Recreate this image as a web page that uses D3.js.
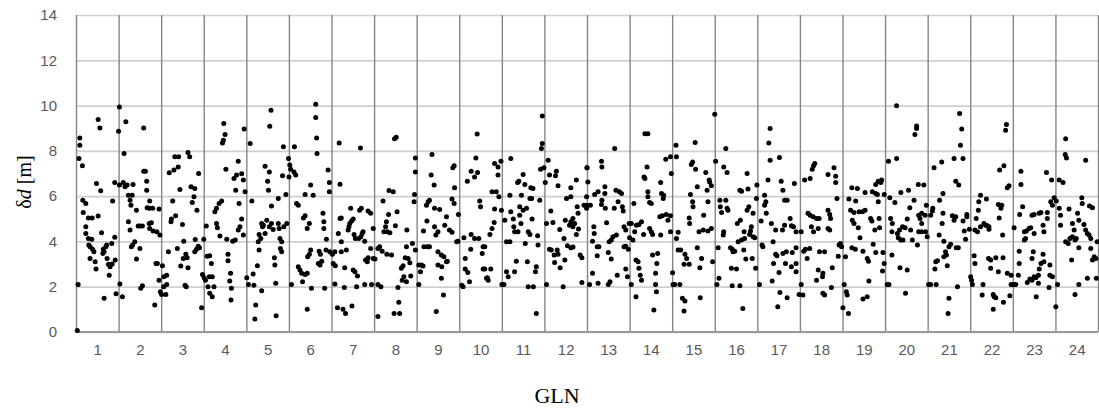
<!DOCTYPE html>
<html>
<head>
<meta charset="utf-8">
<script src="https://cdn.jsdelivr.net/npm/d3@7"></script>
<style>
  html, body { margin: 0; padding: 0; background: #fff; }
  svg { display: block; }
</style>
</head>
<body>
<svg id="chart" width="1099" height="410"></svg>
<script>
// GLONASS slot numbers and y-axis ticks
const gln = d3.range(1, 25);
const yTicks = [0, 2, 4, 6, 8, 10, 12, 14];

// Position error δd [m] per satellite: [position within the slot (0..1), value]
const gln01 = [[0.03,0.07],[0.09,8.57],[0.09,8.25],[0.07,7.66],[0.15,7.34],[0.52,9.38],[0.56,9.01],[0.48,6.56],[0.58,6.24],[0.16,5.82],[0.23,5.68],[0.86,5.79],[0.17,5.28],[0.29,5.04],[0.38,5.04],[0.52,5.12],[0.23,4.65],[0.23,4.35],[0.6,4.38],[0.91,4.18],[0.29,4.13],[0.37,4.1],[0.3,3.84],[0.33,3.76],[0.39,3.66],[0.42,3.54],[0.64,3.66],[0.7,3.76],[0.72,3.84],[0.84,3.91],[0.66,3.54],[0.63,3.47],[0.33,3.25],[0.45,3.1],[0.47,2.78],[0.73,3.25],[0.76,2.99],[0.8,2.88],[0.85,3.0],[0.78,2.51],[0.92,3.18],[0.05,2.1],[0.66,1.49],[0.94,1.69],[0.91,6.6]];
const gln02 = [[0.02,9.94],[0,8.87],[0.17,9.28],[0.59,9.01],[0.13,7.88],[0.02,6.49],[0.11,6.6],[0.15,6.41],[0.2,6.49],[0.34,6.51],[0.23,6.04],[0.32,6.04],[0.27,5.82],[0.29,5.6],[0.59,7.1],[0.63,7.1],[0.66,6.66],[0.66,6.26],[0.73,5.78],[0.72,5.46],[0.8,5.46],[0.95,5.43],[0.67,5.49],[0.42,5.38],[0.23,4.87],[0.27,4.5],[0.46,4.68],[0.5,4.68],[0.56,4.68],[0.72,4.79],[0.77,4.82],[0.73,4.57],[0.81,4.46],[0.9,4.43],[0.97,4.28],[0.38,3.99],[0.33,3.84],[0.3,3.76],[0.5,3.69],[0.42,3.22],[0.03,2.12],[0.09,1.56],[0.56,2.04],[0.52,1.93],[0.85,1.19],[0.88,3.03],[0.91,3.03],[0.95,2.29],[0.98,1.78]];
const gln03 = [[0.03,2.93],[0.06,2.44],[0.13,2.51],[0.01,1.66],[0.11,1.66],[0.13,2.1],[0.06,2.0],[0.17,3.54],[0.38,3.69],[0.53,4.01],[0.52,3.25],[0.58,3.43],[0.61,3.28],[0.46,2.91],[0.63,2.84],[0.24,4.99],[0.23,4.87],[0.34,5.13],[0.27,5.78],[0.5,4.75],[0.19,7.03],[0.3,7.15],[0.4,7.29],[0.32,7.74],[0.41,7.74],[0.63,7.93],[0.67,7.74],[0.44,6.29],[0.7,6.41],[0.79,6.34],[0.77,5.97],[0.73,5.72],[0.84,5.38],[0.88,7.0],[0.56,2.07],[0.59,2.0],[0.8,4.09],[0.87,3.79],[0.9,3.72],[0.83,3.66],[0.79,3.54],[0.97,2.54],[0.95,1.07]];
const gln04 = [[0.0,4.1],[0.06,4.68],[0.01,2.4],[0.04,2.29],[0.13,2.44],[0.2,2.44],[0.24,2.0],[0.14,1.71],[0.2,1.56],[0.1,2.0],[0.14,3.37],[0.18,3.03],[0.08,3.35],[0.26,5.31],[0.3,5.46],[0.36,5.68],[0.42,5.78],[0.46,8.47],[0.5,8.72],[0.47,9.21],[0.44,8.35],[0.52,7.19],[0.71,6.78],[0.77,6.93],[0.81,7.54],[0.89,6.99],[0.93,6.71],[0.95,8.96],[0.75,6.26],[0.83,5.68],[0.97,6.19],[0.3,4.79],[0.32,4.6],[0.38,4.24],[0.54,4.1],[0.68,4.01],[0.74,4.06],[0.81,4.5],[0.85,4.65],[0.89,4.99],[0.93,4.28],[0.57,3.43],[0.57,3.15],[0.63,2.59],[0.61,2.25],[0.65,1.93],[0.64,1.41]];
const gln05 = [[0.01,2.4],[0.05,2.1],[0.16,2.56],[0.18,2.07],[0.36,1.82],[0.22,1.19],[0.2,0.57],[0.7,0.72],[0.26,2.93],[0.3,3.62],[0.34,4.13],[0.3,4.31],[0.28,3.99],[0.38,4.65],[0.4,4.72],[0.36,4.79],[0.48,4.94],[0.44,4.35],[0.59,4.79],[0.54,4.65],[0.63,4.53],[0.75,4.79],[0.77,4.57],[0.79,4.13],[0.83,3.99],[0.95,4.79],[0.88,4.65],[0.44,7.32],[0.54,7.07],[0.87,8.18],[0.99,7.66],[0.55,9.09],[0.58,9.79],[0.13,5.78],[0.59,5.56],[0.75,5.9],[0.93,6.07],[0.5,6.66],[0.52,6.26],[0.85,6.9],[1.0,6.85],[0.66,3.28],[0.67,2.96],[0.8,3.69],[0.83,3.54],[0.69,2.15],[0.09,8.32]];
const gln06 = [[0.06,2.1],[0.13,8.18],[0.65,8.57],[0.66,7.88],[0.63,9.47],[0.63,10.06],[0.02,7.37],[0.04,7.19],[0.12,7.07],[0.16,6.93],[0.18,5.68],[0.22,5.6],[0.34,5.04],[0.38,5.13],[0.43,4.57],[0.48,4.79],[0.51,6.49],[0.38,6.07],[0.57,6.04],[0.51,3.62],[0.48,3.43],[0.44,3.32],[0.22,2.88],[0.26,2.74],[0.3,2.59],[0.38,2.54],[0.43,2.59],[0.32,2.22],[0.53,1.93],[0.43,1.01],[0.8,5.24],[0.82,4.87],[0.82,4.57],[0.88,4.1],[0.92,7.15],[0.95,6.6],[0.95,6.19],[0.71,3.57],[0.74,3.43],[0.77,3.13],[0.69,3.03],[0.73,2.96],[0.84,1.93],[0.87,3.62],[0.96,3.54]];
const gln07 = [[0.18,8.35],[0.68,8.13],[0.2,6.53],[0.2,5.01],[0.23,5.04],[0.16,4.35],[0.23,3.99],[0.08,3.54],[0.23,3.54],[0.35,3.62],[0.02,3.43],[0.04,3.03],[0.09,2.93],[0.31,2.84],[0.51,2.74],[0.55,2.66],[0.61,2.47],[0.08,2.12],[0.3,1.96],[0.59,2.0],[0.14,1.07],[0.27,1.01],[0.33,0.82],[0.48,1.15],[0.39,4.5],[0.41,4.65],[0.43,4.79],[0.47,4.9],[0.51,4.99],[0.45,5.46],[0.66,5.38],[0.7,5.46],[0.53,4.31],[0.56,4.13],[0.69,4.21],[0.72,4.35],[0.74,4.43],[0.64,4.13],[0.78,4.01],[0.86,5.34],[0.92,5.24],[0.98,4.57],[0.8,3.18],[0.86,3.28],[0.84,3.1],[0.92,3.69],[0.98,3.25],[0.78,2.1],[0.94,2.1]];
const gln08 = [[0.09,2.1],[0.16,2.0],[0.09,0.68],[0.47,0.82],[0.6,0.82],[0.58,1.31],[0.56,1.96],[0.48,8.54],[0.52,8.6],[0.35,6.25],[0.45,6.19],[0.21,5.78],[0.34,5.19],[0.54,5.31],[0.29,4.87],[0.27,4.65],[0.23,4.43],[0.31,4.43],[0.37,4.38],[0.5,4.69],[0.77,4.5],[0.13,3.76],[0.09,3.69],[0.19,3.57],[0.3,3.43],[0.41,3.4],[0.02,3.22],[0.76,3.76],[0.9,3.91],[0.73,3.28],[0.8,3.25],[0.84,3.06],[0.68,2.93],[0.64,2.81],[0.7,2.44],[0.86,2.47],[0.76,2.22],[0.66,2.29],[0.97,3.62],[0.94,5.75],[0.95,6.07],[0.97,7.07],[0.97,7.69]];
const gln09 = [[0.05,2.96],[0.11,2.96],[0.15,2.91],[0.09,2.66],[0.05,2.1],[0.46,0.9],[0.63,1.63],[0.58,2.37],[0.17,3.76],[0.25,3.76],[0.3,3.76],[0.16,4.46],[0.24,4.9],[0.42,4.65],[0.45,4.28],[0.5,4.43],[0.54,5.41],[0.42,5.46],[0.23,5.6],[0.27,5.75],[0.3,5.82],[0.34,6.93],[0.41,6.49],[0.36,7.84],[0.7,5.09],[0.66,4.72],[0.77,4.5],[0.83,4.4],[0.97,4.01],[0.88,5.68],[0.89,6.37],[0.83,5.87],[0.5,3.54],[0.58,3.4],[0.64,3.32],[0.7,3.1],[0.5,2.96],[0.59,2.88],[0.72,3.13],[0.85,7.25],[0.88,7.34],[0.94,3.99],[0.98,5.19]];
const gln10 = [[0.06,2.07],[0.09,2.0],[0.14,2.78],[0.14,3.25],[0.2,2.63],[0.24,2.22],[0.11,4.16],[0.27,3.66],[0.28,4.31],[0.36,4.13],[0.46,4.13],[0.56,3.76],[0.6,3.76],[0.54,3.47],[0.56,2.78],[0.6,2.78],[0.64,2.37],[0.68,2.29],[0.74,2.78],[0.66,2.4],[0.19,6.66],[0.28,7.1],[0.43,7.04],[0.36,6.85],[0.39,7.69],[0.42,8.74],[0.48,5.78],[0.5,5.53],[0.72,4.31],[0.77,4.57],[0.82,4.84],[0.83,5.43],[0.77,6.19],[0.87,6.19],[0.93,5.97],[0.83,7.44],[0.91,7.29],[0.98,7.54],[0.91,6.93],[0.99,5.38],[1.0,2.1]];
const gln11 = [[0.05,2.1],[0.11,2.66],[0.15,2.44],[0.3,2.66],[0.34,3.13],[0.6,3.1],[0.62,2.0],[0.74,2.0],[0.81,0.82],[0.79,2.66],[0.81,2.88],[0.11,3.99],[0.19,3.99],[0.07,4.94],[0.21,5.31],[0.19,6.04],[0.21,7.66],[0.27,4.99],[0.28,4.65],[0.3,4.43],[0.38,4.43],[0.45,4.79],[0.42,5.16],[0.5,5.38],[0.58,5.46],[0.42,5.53],[0.37,6.6],[0.4,6.66],[0.5,6.96],[0.54,6.51],[0.68,6.37],[0.66,5.9],[0.7,5.9],[0.73,6.34],[0.46,6.04],[0.62,4.43],[0.66,4.31],[0.55,3.91],[0.71,4.99],[0.84,4.25],[0.85,3.84],[0.89,5.82],[0.93,8.1],[0.95,8.32],[0.95,9.54],[0.91,7.19],[0.99,7.25]];
const gln12 = [[0.02,6.6],[0.09,7.59],[0.12,6.93],[0.26,6.9],[0.28,7.1],[0.32,6.46],[0.52,5.9],[0.62,5.97],[0.62,6.37],[0.75,6.71],[1.0,7.25],[0.05,4.79],[0.15,5.34],[0.2,4.84],[0.36,4.53],[0.49,4.94],[0.59,4.72],[0.62,4.87],[0.67,5.01],[0.71,4.79],[0.67,4.65],[0.8,4.55],[0.75,4.31],[0.79,5.24],[0.77,5.53],[0.93,5.6],[0.99,5.97],[0.99,5.46],[0.12,3.66],[0.16,3.62],[0.23,3.4],[0.3,3.62],[0.32,3.43],[0.24,3.07],[0.37,2.84],[0.48,3.18],[0.46,4.13],[0.54,3.81],[0.62,3.72],[0.67,3.75],[0.84,3.4],[0.88,3.28],[0.05,2.1],[0.44,2.0],[0.88,2.19]];
const gln13 = [[0.0,7.25],[0.02,6.63],[0.0,5.6],[0.08,5.6],[0.13,2.59],[0.06,2.1],[0.26,2.15],[0.34,7.54],[0.35,7.29],[0.65,8.1],[0.18,6.07],[0.26,6.19],[0.42,6.12],[0.42,6.41],[0.35,5.82],[0.34,5.63],[0.43,5.46],[0.68,6.26],[0.76,6.19],[0.81,6.12],[0.73,5.75],[0.83,5.53],[0.85,5.34],[0.64,5.46],[0.46,4.82],[0.16,4.65],[0.17,4.35],[0.13,4.01],[0.24,3.76],[0.28,3.76],[0.24,3.37],[0.52,3.99],[0.57,4.06],[0.61,4.21],[0.69,4.28],[0.5,3.51],[0.57,3.22],[0.5,2.1],[0.54,2.22],[0.71,2.51],[0.87,4.65],[0.91,4.5],[0.99,4.79],[0.91,3.79],[0.97,3.66],[0.87,3.76],[0.91,2.78],[0.95,2.44]];
const gln14 = [[0.04,2.1],[0.15,1.56],[0.57,0.97],[0.63,1.78],[0.61,2.1],[0.61,2.59],[0.64,3.03],[0.54,3.4],[0.66,3.47],[0.15,3.18],[0.2,3.1],[0.22,2.81],[0.25,2.51],[0.28,2.29],[0.08,4.06],[0.0,4.16],[0.04,4.79],[0.16,4.72],[0.22,4.75],[0.28,4.87],[0.12,4.43],[0.33,4.31],[0.47,4.57],[0.51,4.43],[0.54,4.31],[0.1,5.68],[0.36,8.76],[0.43,8.76],[0.41,7.29],[0.34,6.85],[0.36,6.78],[0.43,6.19],[0.43,5.97],[0.51,5.68],[0.47,5.72],[0.73,6.6],[0.75,6.12],[0.79,5.9],[0.8,6.04],[0.71,5.09],[0.77,5.13],[0.86,5.19],[0.96,5.13],[0.9,4.94],[0.73,4.28],[0.96,4.43],[0.85,7.63],[0.96,7.74],[0.98,7.0]];
const gln15 = [[0.09,8.25],[0.1,7.74],[0.01,2.62],[0.02,2.1],[0.06,2.1],[0.18,2.1],[0.24,1.49],[0.3,1.37],[0.28,0.93],[0.66,1.51],[0.1,4.13],[0.14,4.4],[0.2,3.62],[0.14,3.62],[0.3,3.43],[0.34,3.25],[0.28,2.99],[0.4,2.99],[0.43,6.07],[0.48,5.75],[0.49,5.53],[0.4,5.04],[0.41,4.79],[0.54,8.37],[0.48,7.51],[0.45,7.4],[0.55,7.19],[0.59,6.41],[0.63,4.43],[0.69,3.25],[0.65,2.84],[0.59,3.72],[0.74,5.16],[0.73,4.5],[0.79,7.04],[0.84,5.75],[0.82,6.26],[0.87,6.71],[0.88,6.63],[0.92,6.46],[0.92,4.57],[0.95,3.1],[0.84,4.46]];
const gln16 = [[0.0,9.62],[0.02,7.54],[0.05,2.1],[0.1,2.37],[0.08,3.72],[0.26,8.1],[0.21,7.29],[0.29,7.04],[0.12,5.82],[0.26,5.82],[0.13,5.53],[0.29,5.46],[0.16,5.28],[0.31,5.38],[0.21,4.43],[0.2,4.28],[0.37,3.72],[0.41,3.66],[0.43,3.54],[0.47,3.57],[0.39,2.81],[0.51,2.78],[0.41,2.04],[0.59,2.04],[0.66,1.04],[0.53,4.79],[0.6,4.94],[0.59,6.26],[0.63,6.22],[0.78,6.31],[0.76,7.0],[0.68,3.62],[0.73,3.22],[0.76,5.38],[0.8,5.53],[0.55,3.99],[0.63,4.06],[0.7,4.13],[0.69,4.43],[0.82,4.31],[0.84,4.46],[0.9,4.21],[0.94,4.16],[0.86,4.65],[0.9,5.24],[0.98,5.9],[0.99,6.49],[0.96,2.81],[0.88,3.25]];
const gln17 = [[0.05,2.1],[0.13,3.76],[0.11,3.84],[0.09,4.9],[0.17,5.6],[0.2,5.75],[0.21,5.24],[0.17,6.04],[0.3,8.99],[0.27,8.35],[0.3,7.59],[0.25,6.71],[0.33,4.79],[0.43,4.5],[0.37,3.99],[0.43,3.43],[0.46,3.37],[0.38,3.03],[0.35,2.25],[0.51,2.63],[0.53,1.75],[0.48,1.12],[0.7,1.51],[0.56,6.66],[0.6,6.26],[0.64,5.82],[0.7,5.82],[0.52,7.71],[0.59,4.5],[0.64,4.72],[0.77,5.01],[0.8,4.69],[0.85,4.65],[0.6,3.47],[0.68,3.54],[0.82,3.51],[0.66,3.03],[0.8,2.88],[0.91,3.03],[0.91,2.66],[0.87,6.56],[0.91,3.72],[0.91,4.43],[0.98,1.66]];
const gln18 = [[0.03,2.1],[0.07,1.63],[0.03,4.43],[0.09,3.57],[0.13,3.66],[0.17,3.25],[0.23,3.69],[0.11,6.71],[0.24,6.78],[0.29,7.19],[0.32,7.34],[0.35,7.44],[0.19,5.24],[0.24,5.16],[0.31,5.09],[0.39,5.01],[0.45,5.01],[0.27,4.65],[0.32,4.43],[0.43,4.57],[0.39,2.29],[0.43,2.74],[0.54,2.59],[0.53,2.44],[0.54,1.71],[0.58,1.63],[0.46,3.54],[0.58,3.54],[0.66,6.96],[0.8,7.25],[0.84,6.88],[0.84,6.6],[0.66,5.38],[0.7,5.19],[0.72,5.01],[0.66,4.57],[0.7,4.5],[0.87,5.9],[0.76,2.84],[0.74,1.96],[0.9,3.35],[0.92,3.84],[0.95,3.91],[0.98,3.76]];
const gln19 = [[0.04,2.1],[0.09,1.78],[0.11,1.63],[0.01,1.07],[0.14,0.82],[0.48,1.46],[0.58,1.56],[0.07,3.32],[0.22,3.72],[0.3,3.66],[0.41,4.16],[0.48,3.57],[0.58,3.25],[0.61,3.13],[0.72,3.87],[0.78,3.51],[0.95,3.51],[0.98,3.03],[0.94,2.69],[0.62,2.25],[0.15,5.87],[0.31,5.78],[0.19,5.38],[0.27,5.28],[0.39,5.31],[0.47,5.31],[0.53,5.38],[0.23,4.94],[0.27,4.79],[0.37,4.6],[0.66,5.01],[0.69,4.9],[0.76,4.5],[0.87,4.6],[0.86,5.01],[0.22,6.37],[0.35,6.34],[0.53,6.16],[0.7,6.19],[0.78,6.12],[0.82,6.07],[0.84,5.75],[0.78,6.51],[0.84,6.66],[0.92,6.71],[0.9,6.6],[0.98,6.07]];
const gln20 = [[0.05,2.1],[0.09,2.1],[0.27,9.99],[0.08,7.54],[0.27,7.66],[0.48,1.71],[0.52,2.74],[0.35,2.84],[0.16,3.4],[0.13,5.01],[0.17,4.79],[0.16,4.43],[0.23,5.72],[0.11,5.93],[0.29,4.35],[0.31,4.16],[0.37,4.06],[0.42,4.06],[0.34,4.5],[0.41,4.65],[0.52,4.99],[0.47,4.6],[0.6,4.5],[0.64,4.06],[0.76,3.84],[0.37,6.16],[0.55,6.26],[0.58,5.49],[0.68,5.82],[0.7,8.72],[0.74,9.1],[0.74,8.99],[0.78,6.51],[0.91,6.49],[0.79,5.16],[0.82,5.01],[0.86,5.24],[0.86,4.79],[0.79,4.43],[0.86,4.43],[0.95,4.43],[0.99,4.21],[0.97,5.6],[0.94,5.16]];
const gln21 = [[0.02,2.1],[0.07,2.1],[0.2,2.1],[0.19,3.1],[0.23,3.15],[0.17,2.78],[0.5,1.49],[0.48,0.82],[0.7,2.0],[0.46,2.93],[0.15,7.25],[0.33,7.51],[0.27,4.28],[0.34,4.79],[0.36,5.24],[0.36,6.12],[0.28,5.82],[0.07,5.16],[0.11,5.34],[0.12,5.46],[0.38,4.01],[0.42,3.54],[0.38,3.32],[0.44,3.4],[0.5,3.76],[0.54,3.87],[0.67,3.72],[0.72,3.72],[0.58,5.13],[0.62,4.94],[0.66,5.09],[0.62,7.66],[0.83,7.66],[0.75,9.65],[0.8,8.96],[0.77,8.25],[0.66,6.66],[0.73,6.49],[0.83,4.9],[0.86,4.46],[0.89,4.1],[0.92,5.19],[0.92,5.09],[0.98,4.54]];
const gln22 = [[0.05,2.1],[0.01,2.44],[0.03,2.29],[0.09,3.37],[0.11,3.03],[0.28,1.63],[0.3,2.1],[0.54,1.66],[0.56,1.56],[0.54,1.01],[0.78,1.31],[0.6,1.51],[0.93,1.6],[0.96,2.1],[0.99,2.1],[0.14,5.01],[0.19,5.38],[0.24,6.04],[0.2,5.75],[0.38,5.87],[0.11,4.5],[0.17,4.43],[0.24,4.65],[0.32,4.79],[0.36,4.72],[0.4,4.69],[0.44,4.65],[0.44,4.54],[0.43,3.25],[0.48,3.18],[0.6,3.28],[0.77,3.28],[0.48,2.81],[0.66,2.66],[0.87,2.59],[0.96,2.51],[0.68,5.04],[0.72,5.46],[0.74,5.6],[0.66,5.63],[0.76,4.28],[0.69,7.15],[0.79,7.34],[0.83,8.91],[0.85,9.16],[0.87,6.37],[0.91,6.46]];
const gln23 = [[0.03,2.1],[0.07,2.1],[0.03,4.6],[0.15,3.57],[0.15,3.03],[0.13,2.51],[0.19,7.1],[0.19,6.51],[0.16,5.19],[0.23,5.53],[0.27,4.43],[0.32,4.46],[0.27,4.06],[0.3,4.13],[0.38,4.57],[0.42,4.6],[0.5,4.35],[0.45,5.16],[0.5,5.19],[0.62,5.24],[0.66,5.28],[0.71,4.72],[0.73,4.43],[0.81,5.28],[0.81,5.01],[0.34,2.19],[0.4,2.34],[0.45,2.29],[0.45,3.25],[0.48,3.54],[0.5,2.44],[0.54,2.4],[0.6,2.51],[0.62,2.78],[0.66,3.03],[0.71,3.43],[0.73,3.1],[0.6,2.15],[0.55,1.56],[0.85,1.96],[0.87,2.96],[0.93,2.44],[0.87,2.51],[0.79,7.04],[0.91,6.71],[0.97,5.93],[0.93,5.6],[0.89,5.75]];
const gln24 = [[0.05,2.1],[0.01,1.12],[0.02,5.78],[0.09,6.71],[0.18,6.6],[0.24,8.54],[0.23,7.84],[0.26,7.69],[0.71,7.59],[0.09,5.46],[0.12,5.16],[0.12,4.72],[0.32,5.43],[0.4,4.79],[0.44,4.5],[0.52,5.24],[0.55,4.94],[0.62,5.93],[0.63,5.68],[0.67,4.75],[0.71,4.5],[0.75,4.35],[0.8,5.57],[0.87,5.49],[0.24,3.99],[0.3,3.91],[0.34,4.13],[0.4,4.21],[0.46,4.06],[0.49,4.13],[0.55,3.72],[0.38,3.18],[0.46,1.66],[0.55,2.1],[0.75,2.37],[0.83,3.69],[0.87,3.18],[0.91,3.32],[0.95,3.25],[0.96,2.37],[0.98,3.99],[0.83,4.13],[0.79,4.28]];

const series = [gln01, gln02, gln03, gln04, gln05, gln06, gln07, gln08, gln09, gln10, gln11, gln12,
                gln13, gln14, gln15, gln16, gln17, gln18, gln19, gln20, gln21, gln22, gln23, gln24];

const svg = d3.select("#chart");
const margin = { left: 76, top: 15, right: 1, bottom: 78 };
const W = 1099, H = 410;
const plotW = W - margin.left - margin.right;
const plotH = H - margin.top - margin.bottom;

const x = d3.scaleLinear().domain([0, gln.length]).range([margin.left, margin.left + plotW]);
const y = d3.scaleLinear().domain([0, 14]).range([margin.top + plotH, margin.top]);

// horizontal gridlines
const hGrid = svg.append("g")
  .attr("transform", `translate(${margin.left},0)`)
  .call(d3.axisLeft(y).tickValues(yTicks).tickSize(-plotW).tickFormat(""));
hGrid.select(".domain").remove();
hGrid.selectAll(".tick line").attr("stroke", "#cfcfcf").attr("stroke-width", 1.7);

// vertical separators between satellites
const vGrid = svg.append("g")
  .attr("transform", `translate(0,${margin.top + plotH})`)
  .call(d3.axisBottom(x).tickValues(d3.range(0, gln.length + 1)).tickSize(-plotH).tickFormat(""));
vGrid.select(".domain").remove();
vGrid.selectAll(".tick line").attr("stroke", "#858585").attr("stroke-width", 1.4);

// bottom axis line
svg.append("line")
  .attr("x1", x(0)).attr("x2", x(gln.length))
  .attr("y1", y(0)).attr("y2", y(0))
  .attr("stroke", "#9a9a9a").attr("stroke-width", 2);

// y tick labels
const yAxis = svg.append("g")
  .attr("transform", `translate(${margin.left},0)`)
  .call(d3.axisLeft(y).tickValues(yTicks).tickSize(0).tickPadding(19));
yAxis.select(".domain").remove();
yAxis.selectAll("text")
  .attr("fill", "#595959")
  .style("font-family", "'Liberation Sans', Arial, sans-serif")
  .style("font-size", "15px");

// x tick labels: one per satellite, centred in its slot
const xAxis = svg.append("g")
  .attr("transform", `translate(0,${margin.top + plotH})`)
  .call(d3.axisBottom(x).tickValues(gln.map(g => g - 0.5)).tickSize(0).tickPadding(12)
    .tickFormat(d => String(Math.round(d + 0.5))));
xAxis.select(".domain").remove();
xAxis.selectAll("text")
  .attr("fill", "#595959")
  .style("font-family", "'Liberation Sans', Arial, sans-serif")
  .style("font-size", "15px");

// points
const pts = series.flatMap((arr, i) => arr.map(([t, v]) => ({ gx: i + t, v })));
svg.append("g")
  .selectAll("circle")
  .data(pts)
  .join("circle")
  .attr("cx", d => x(d.gx))
  .attr("cy", d => y(d.v))
  .attr("r", 2.5)
  .attr("fill", "#000");

// axis titles
const yTitle = svg.append("text")
  .attr("transform", `translate(31,182) rotate(-90)`)
  .attr("text-anchor", "middle")
  .style("font-family", "'Liberation Serif', 'Times New Roman', serif")
  .style("font-size", "20px")
  .attr("fill", "#000");
yTitle.append("tspan").text("δ");
yTitle.append("tspan").style("font-style", "italic").text("d");
yTitle.append("tspan").text(" [m]");

svg.append("text")
  .attr("x", 557).attr("y", 403)
  .attr("text-anchor", "middle")
  .style("font-family", "'Liberation Serif', 'Times New Roman', serif")
  .style("font-size", "22px")
  .attr("fill", "#000")
  .text("GLN");
</script>
</body>
</html>
